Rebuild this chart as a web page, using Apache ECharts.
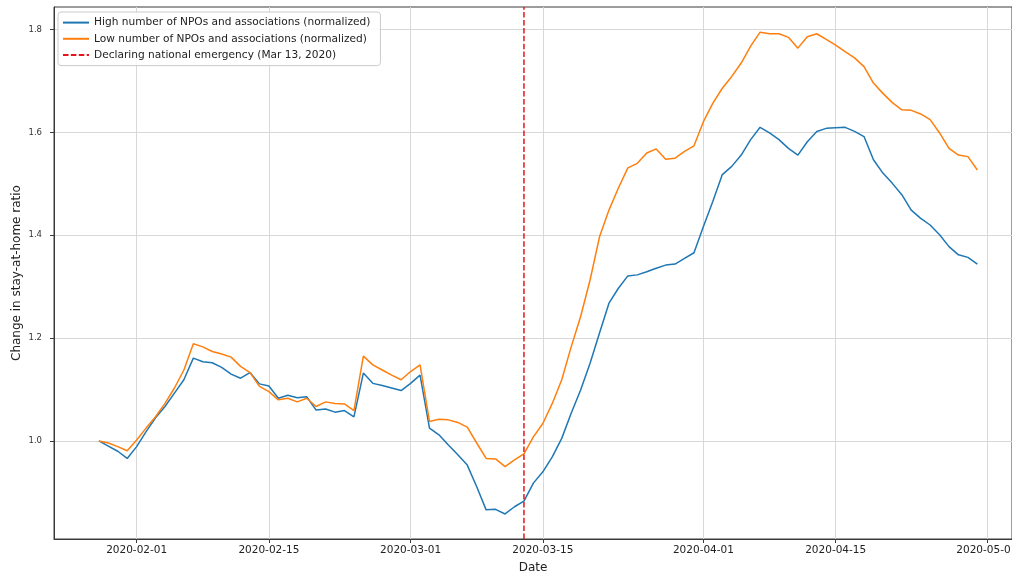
<!DOCTYPE html>
<html>
<head>
<meta charset="utf-8">
<script src="https://cdn.jsdelivr.net/npm/echarts@6/dist/echarts.min.js"></script>
<style>
  html, body { margin: 0; padding: 0; background: #fff; }
  #chart { width: 1012px; height: 574px; }
</style>
</head>
<body>
<div id="chart"></div>
<script>
// Daily series, 2020-01-28 through 2020-04-30
const startDay = '2020-01-28';
const dayCount = 94;

const highNPO = [
  1.000, 0.990, 0.980, 0.966,
  0.989, 1.018, 1.045, 1.067, 1.093, 1.119, 1.161, 1.154, 1.152, 1.143,
  1.130, 1.122, 1.133, 1.111, 1.107, 1.083, 1.089, 1.084, 1.086, 1.060,
  1.062, 1.056, 1.059, 1.047, 1.132, 1.112, 1.108, 1.103, 1.098,
  1.112, 1.128, 1.025, 1.012, 0.992, 0.973, 0.953, 0.911, 0.866, 0.867,
  0.858, 0.872, 0.883, 0.918, 0.940, 0.969, 1.005, 1.054, 1.099, 1.151,
  1.210, 1.268, 1.297, 1.321, 1.323, 1.329, 1.336, 1.342, 1.344, 1.355, 1.366,
  1.417, 1.466, 1.518, 1.534, 1.556, 1.586, 1.610, 1.599, 1.586, 1.569,
  1.556, 1.582, 1.602, 1.608, 1.609, 1.610, 1.602, 1.592, 1.547, 1.521,
  1.501, 1.479, 1.449, 1.433, 1.420, 1.401, 1.378, 1.362, 1.357, 1.344
];

const lowNPO = [
  1.000, 0.996, 0.989, 0.981,
  1.002, 1.025, 1.047, 1.073, 1.103, 1.138, 1.189, 1.183, 1.174, 1.169,
  1.163, 1.145, 1.133, 1.106, 1.096, 1.080, 1.083, 1.076, 1.083, 1.067,
  1.076, 1.073, 1.072, 1.059, 1.165, 1.148, 1.138, 1.128, 1.119,
  1.135, 1.148, 1.038, 1.042, 1.041, 1.036, 1.027, 0.996, 0.966, 0.965,
  0.950, 0.963, 0.975, 1.008, 1.034, 1.073, 1.119, 1.183, 1.242, 1.313,
  1.397, 1.449, 1.492, 1.531, 1.540, 1.560, 1.568, 1.548, 1.550, 1.563, 1.574,
  1.621, 1.657, 1.686, 1.709, 1.735, 1.768, 1.795, 1.792, 1.792, 1.785,
  1.764, 1.786, 1.792, 1.781, 1.770, 1.757, 1.745, 1.728, 1.696, 1.676,
  1.658, 1.644, 1.643, 1.636, 1.625, 1.599, 1.569, 1.556, 1.553, 1.527
];

const emergencyDate = '2020-03-13';

const xTickLabels = ['2020-02-01', '2020-02-15', '2020-03-01', '2020-03-15',
                     '2020-04-01', '2020-04-15', '2020-05-01'];
const yTickValues = [1.0, 1.2, 1.4, 1.6, 1.8];

const seriesNames = [
  'High number of NPOs and associations (normalized)',
  'Low number of NPOs and associations (normalized)',
  'Declaring national emergency (Mar 13, 2020)'
];

// Axis extents (plot padding around the data); the right end runs to the page edge
const xMin = '2020-01-23 06:00';
const xMax = '2020-05-03 16:00';
const yMin = 0.8093;
const yMax = 1.844;

function parseDay(s) {
  const p = s.split(/[- :]/).map(Number);
  return new Date(p[0], p[1] - 1, p[2], p[3] || 0, p[4] || 0).getTime();
}

function pad2(n) { return (n < 10 ? '0' : '') + n; }
function fmtDay(t) {
  const d = new Date(Math.round(t));
  return d.getFullYear() + '-' + pad2(d.getMonth() + 1) + '-' + pad2(d.getDate());
}

const dates = [];
{
  const base = new Date(parseDay(startDay));
  for (let i = 0; i < dayCount; i++) {
    dates.push(new Date(base.getFullYear(), base.getMonth(), base.getDate() + i).getTime());
  }
}

const xTicks = xTickLabels.map(parseDay);
const emergencyX = parseDay(emergencyDate);

const font = 'DejaVu Sans';
const axisColor = '#3a3a3a';
const gridColor = '#d8d8d8';

const chart = echarts.init(document.getElementById('chart'), null, { renderer: 'canvas' });

chart.setOption({
  animation: false,
  backgroundColor: '#fff',
  textStyle: { fontFamily: font },
  grid: {
    left: 54, top: 7, width: 958, height: 532,
    show: true, borderColor: axisColor, borderWidth: 1,
    containLabel: false,
    outerBoundsMode: 'none'
  },
  legend: {
    orient: 'vertical',
    left: 58, top: 12,
    padding: [5, 10, 5, 4],
    itemWidth: 26, itemHeight: 14, itemGap: 5,
    itemStyle: { opacity: 0 },
    backgroundColor: 'rgba(255,255,255,0.85)',
    borderColor: '#cccccc', borderWidth: 1, borderRadius: 3,
    textStyle: { fontFamily: font, fontSize: 10.6, color: '#222' },
    data: seriesNames
  },
  xAxis: {
    type: 'value',
    min: parseDay(xMin),
    max: parseDay(xMax),
    name: 'Date',
    nameLocation: 'middle',
    nameGap: 23,
    nameMoveOverlap: false,
    nameTextStyle: { fontFamily: font, fontSize: 12, color: '#222' },
    axisLine: { show: true, onZero: false, lineStyle: { color: axisColor, width: 1 } },
    axisTick: { show: true, length: 4, customValues: xTicks, lineStyle: { color: axisColor } },
    axisLabel: {
      customValues: xTicks,
      fontFamily: font, fontSize: 10.5, color: '#222', margin: 6,
      formatter: v => fmtDay(v)
    },
    splitLine: { show: true, customValues: xTicks, lineStyle: { color: gridColor, width: 1 } }
  },
  yAxis: {
    type: 'value',
    min: yMin,
    max: yMax,
    name: 'Change in stay-at-home ratio',
    nameLocation: 'middle',
    nameGap: 37,
    nameRotate: 90,
    nameMoveOverlap: false,
    nameTextStyle: { fontFamily: font, fontSize: 12, color: '#222', verticalAlign: 'middle' },
    axisLine: { show: true, onZero: false, lineStyle: { color: axisColor, width: 1 } },
    axisTick: { show: true, length: 4, customValues: yTickValues, lineStyle: { color: axisColor } },
    axisLabel: {
      customValues: yTickValues,
      fontFamily: font, fontSize: 8.5, color: '#333', margin: 12,
      formatter: v => Number(v).toFixed(1)
    },
    splitLine: { show: true, customValues: yTickValues, lineStyle: { color: gridColor, width: 1 } }
  },
  series: [
    {
      name: seriesNames[0],
      type: 'line',
      data: dates.map((d, i) => [d, highNPO[i]]),
      symbol: 'none',
      lineStyle: { color: '#1f77b4', width: 1.5 },
      itemStyle: { color: '#1f77b4' },
      z: 2
    },
    {
      name: seriesNames[1],
      type: 'line',
      data: dates.map((d, i) => [d, lowNPO[i]]),
      symbol: 'none',
      lineStyle: { color: '#ff7f0e', width: 1.5 },
      itemStyle: { color: '#ff7f0e' },
      z: 3
    },
    {
      name: seriesNames[2],
      type: 'line',
      data: [[emergencyX, yMin], [emergencyX, yMax]],
      symbol: 'none',
      lineStyle: { color: '#e8141c', width: 1.5, type: [5.5, 2.4] },
      itemStyle: { color: '#e8141c' },
      z: 4
    }
  ]
});
</script>
</body>
</html>
